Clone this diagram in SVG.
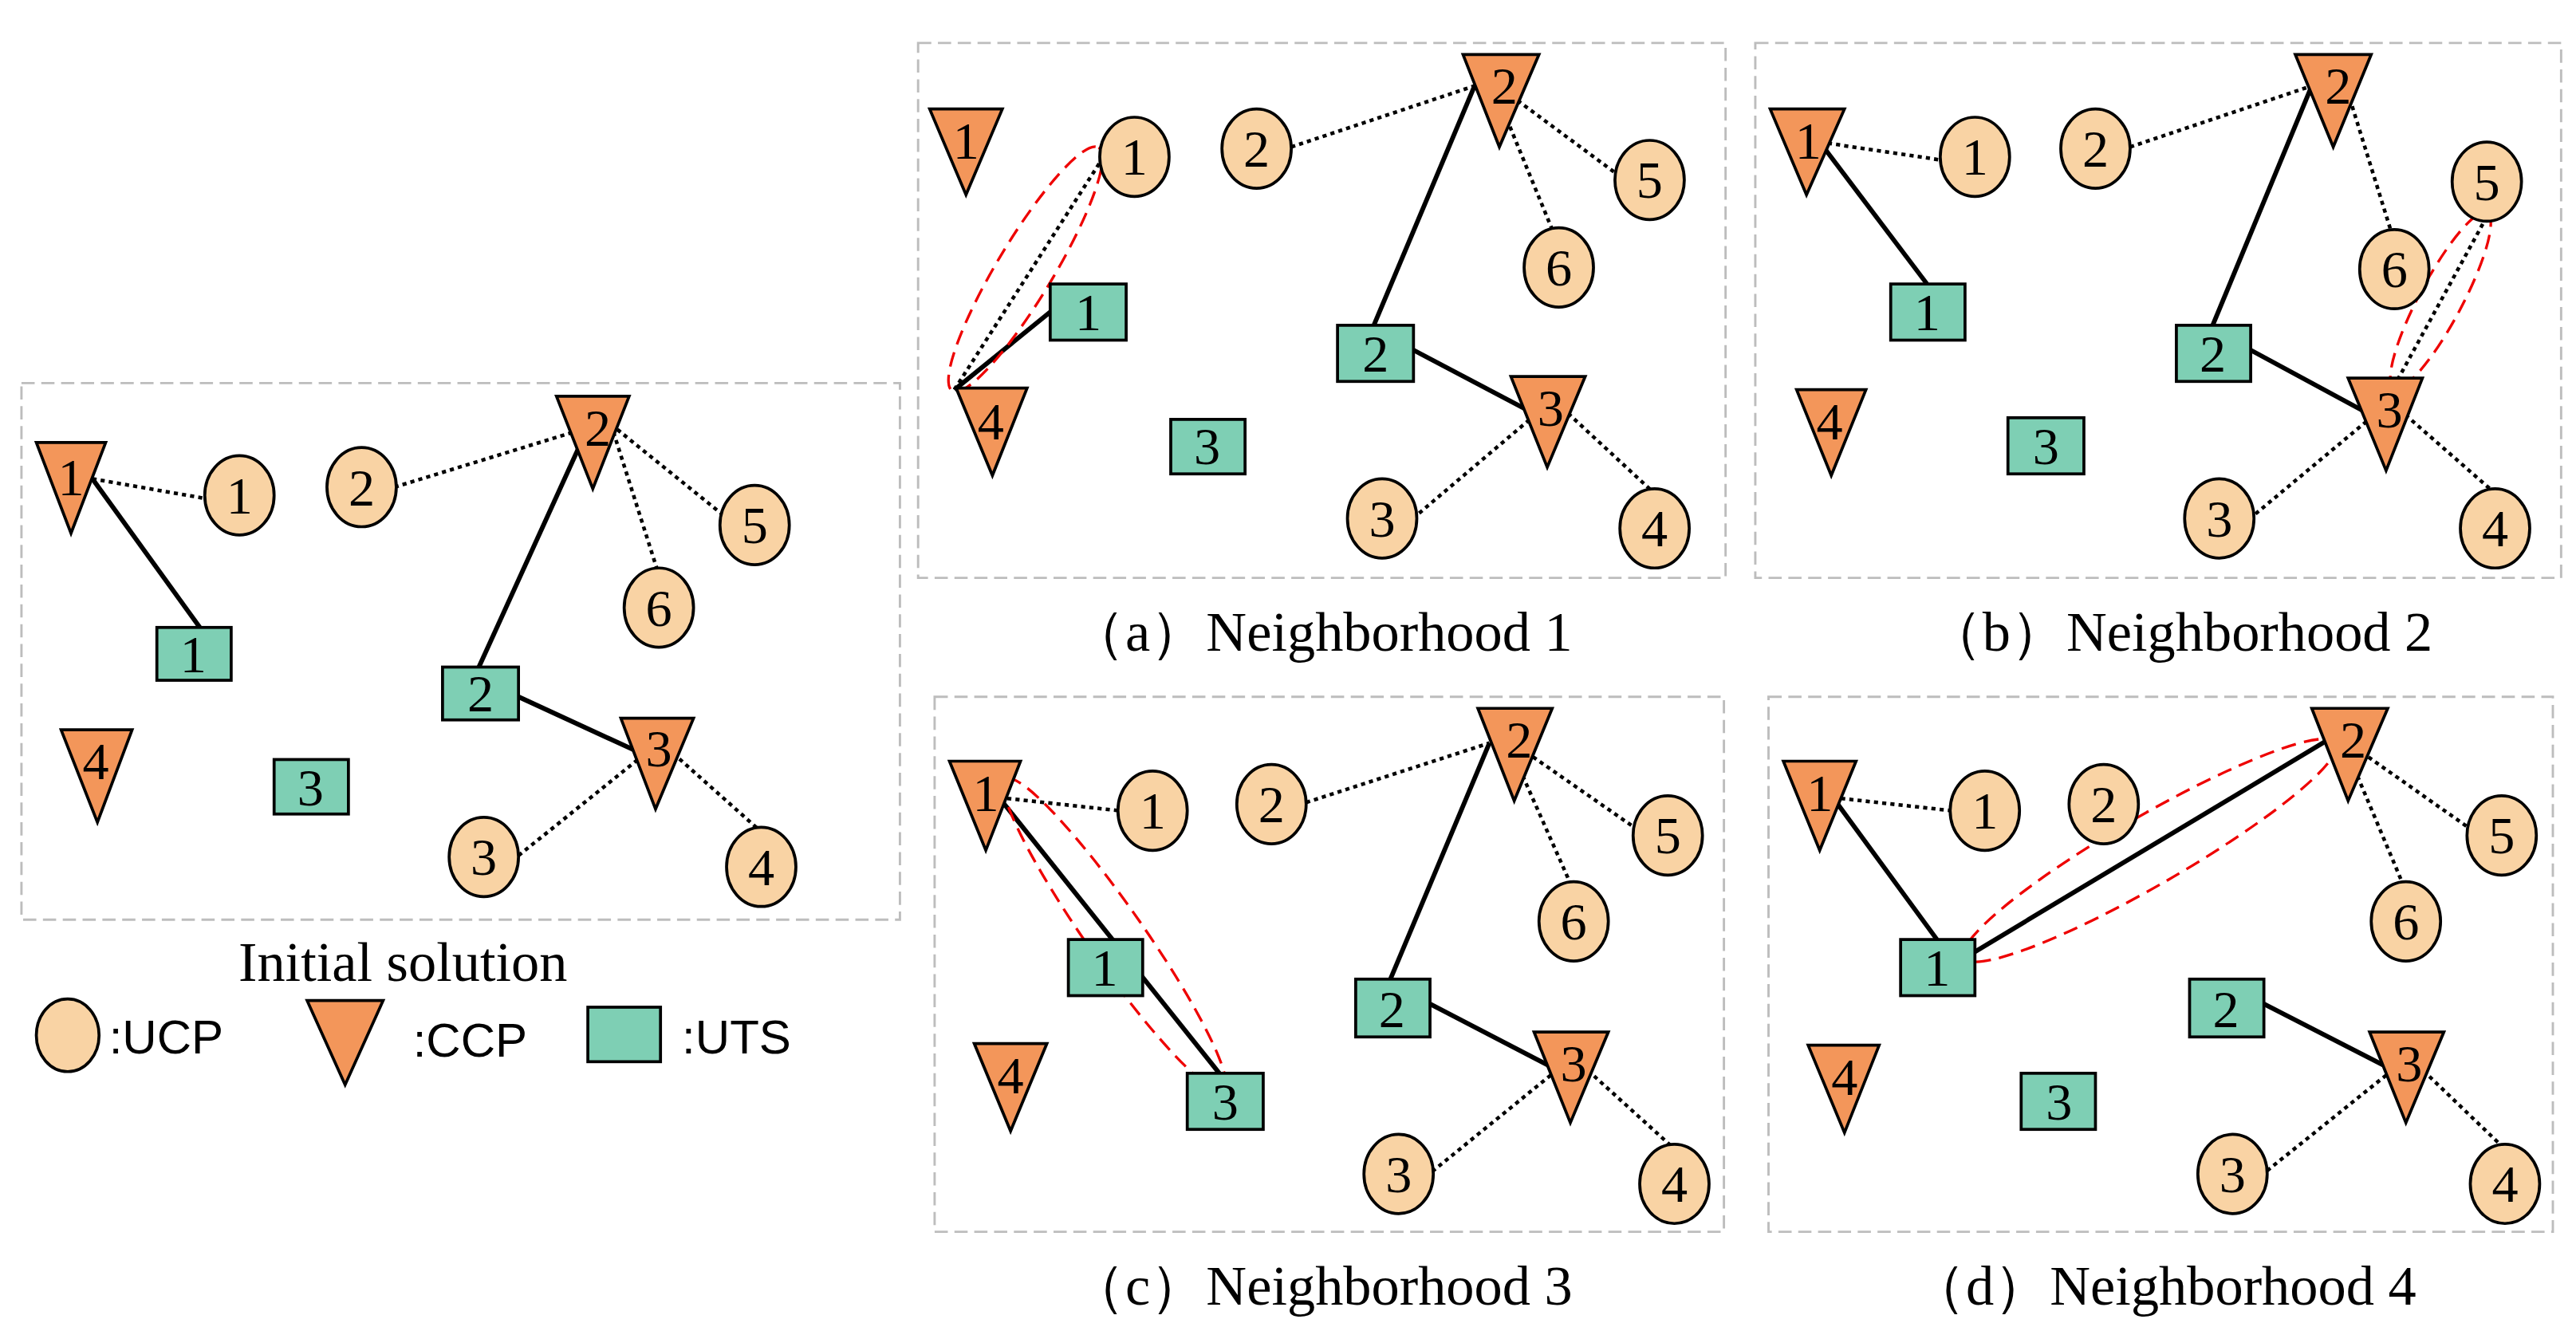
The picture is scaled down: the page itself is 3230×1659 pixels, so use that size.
<svg xmlns="http://www.w3.org/2000/svg" width="3230" height="1659" viewBox="0 0 3230 1659">
<style>
.u{fill:#f9d3a4;stroke:#000;stroke-width:1.8}
.c{fill:#f3965a;stroke:#000;stroke-width:1.8}
.s{fill:#7ecfb4;stroke:#000;stroke-width:1.8}
.t{font-family:"Liberation Serif",serif;font-size:32px;text-anchor:middle;fill:#000}
.cap{font-family:"Liberation Serif",serif;font-size:34px;text-anchor:middle;fill:#000}
.lg{font-family:"Liberation Sans",sans-serif;font-size:29px;fill:#000}
.box{fill:none;stroke:#bdbdbd;stroke-width:1.4;stroke-dasharray:8 4}
.sl{stroke:#000;stroke-width:2.8;fill:none}
.dl{stroke:#000;stroke-width:2.2;stroke-dasharray:2.5 2.5;fill:none}
.re{fill:none;stroke:#e00;stroke-width:1.6;stroke-dasharray:9 5}
</style>
<rect width="3230" height="1659" fill="#fff"/>
<g transform="scale(2.0705)">
<rect class="box" x="13" y="232" width="532" height="325"/>
<rect class="box" x="556" y="26" width="489" height="324"/>
<rect class="box" x="1063" y="26" width="488" height="324"/>
<rect class="box" x="566" y="422" width="478" height="324"/>
<rect class="box" x="1071" y="422" width="475" height="324"/>
<g id="connectors">
<line class="dl" x1="56" y1="290" x2="125" y2="302"/>
<line class="sl" x1="56" y1="290" x2="121" y2="380"/>
<line class="dl" x1="239" y1="295" x2="356" y2="259"/>
<line class="sl" x1="356" y1="259" x2="290" y2="404"/>
<line class="dl" x1="370" y1="257" x2="438" y2="312"/>
<line class="dl" x1="370" y1="257" x2="398" y2="345"/>
<line class="sl" x1="314" y1="422" x2="390" y2="457"/>
<line class="dl" x1="390" y1="457" x2="313" y2="519"/>
<line class="dl" x1="404" y1="453" x2="459" y2="502"/>
<line class="dl" x1="578" y1="236" x2="667" y2="97"/>
<line class="sl" x1="578" y1="236" x2="636" y2="189"/>
<line class="dl" x1="782" y1="89" x2="893" y2="52"/>
<line class="sl" x1="893" y1="52" x2="832" y2="197"/>
<line class="dl" x1="903" y1="49" x2="980" y2="106"/>
<line class="dl" x1="903" y1="49" x2="940" y2="139"/>
<line class="sl" x1="856" y1="212" x2="930" y2="251"/>
<line class="dl" x1="930" y1="251" x2="858" y2="312"/>
<line class="dl" x1="946" y1="247" x2="1000" y2="297"/>
<ellipse class="re" cx="621" cy="163" rx="86" ry="17" transform="rotate(-59 621 163)"/>
<line class="dl" x1="1102" y1="86" x2="1176" y2="97"/>
<line class="sl" x1="1102" y1="86" x2="1167" y2="172"/>
<line class="dl" x1="1290" y1="89" x2="1400" y2="52"/>
<line class="sl" x1="1400" y1="52" x2="1340" y2="197"/>
<line class="dl" x1="1420" y1="50" x2="1448" y2="140"/>
<line class="dl" x1="1452" y1="230" x2="1505" y2="133"/>
<line class="sl" x1="1363" y1="212" x2="1437" y2="252"/>
<line class="dl" x1="1437" y1="252" x2="1365" y2="312"/>
<line class="dl" x1="1453" y1="248" x2="1509" y2="297"/>
<ellipse class="re" cx="1478" cy="182" rx="60" ry="13" transform="rotate(-62 1478 182)"/>
<line class="dl" x1="605" y1="483" x2="678" y2="491"/>
<line class="sl" x1="605" y1="483" x2="740" y2="652"/>
<line class="dl" x1="791" y1="486" x2="902" y2="450"/>
<line class="sl" x1="902" y1="450" x2="842" y2="593"/>
<line class="dl" x1="912" y1="447" x2="991" y2="502"/>
<line class="dl" x1="912" y1="447" x2="951" y2="535"/>
<line class="sl" x1="866" y1="608" x2="943" y2="648"/>
<line class="dl" x1="943" y1="648" x2="868" y2="709"/>
<line class="dl" x1="958" y1="645" x2="1012" y2="694"/>
<ellipse class="re" cx="675" cy="566" rx="115" ry="17" transform="rotate(55 675 566)"/>
<line class="dl" x1="1110" y1="483" x2="1182" y2="491"/>
<line class="sl" x1="1110" y1="483" x2="1173" y2="569"/>
<line class="sl" x1="1190" y1="580" x2="1410" y2="448"/>
<line class="dl" x1="1418" y1="447" x2="1496" y2="502"/>
<line class="dl" x1="1418" y1="447" x2="1455" y2="535"/>
<line class="sl" x1="1371" y1="608" x2="1449" y2="648"/>
<line class="dl" x1="1449" y1="648" x2="1373" y2="709"/>
<line class="dl" x1="1464" y1="645" x2="1515" y2="694"/>
<ellipse class="re" cx="1302" cy="515" rx="130" ry="21" transform="rotate(-30 1302 515)"/>
</g>
<g id="i-ccp1"><polygon class="c" points="22,268 64,268 43,323"/><text class="t" x="43" y="300">1</text></g>
<g id="i-ucp1"><ellipse class="u" cx="145" cy="300" rx="21" ry="24"/><text class="t" x="145" y="311">1</text></g>
<g id="i-ucp2"><ellipse class="u" cx="219" cy="295" rx="21" ry="24"/><text class="t" x="219" y="306">2</text></g>
<g id="i-ccp2"><polygon class="c" points="337,240 381,240 359,296"/><text class="t" x="362" y="270">2</text></g>
<g id="i-ucp5"><ellipse class="u" cx="457" cy="318" rx="21" ry="24"/><text class="t" x="457" y="329">5</text></g>
<g id="i-ucp6"><ellipse class="u" cx="399" cy="368" rx="21" ry="24"/><text class="t" x="399" y="379">6</text></g>
<g id="i-uts1"><rect class="s" x="95" y="380" width="45" height="32"/><text class="t" x="117" y="407">1</text></g>
<g id="i-uts2"><rect class="s" x="268" y="404" width="46" height="32"/><text class="t" x="291" y="431">2</text></g>
<g id="i-ccp3"><polygon class="c" points="376,435 420,435 397,490"/><text class="t" x="399" y="464">3</text></g>
<g id="i-ccp4"><polygon class="c" points="37,442 80,442 59,498"/><text class="t" x="58" y="472">4</text></g>
<g id="i-uts3"><rect class="s" x="166" y="460" width="45" height="33"/><text class="t" x="188" y="488">3</text></g>
<g id="i-ucp3"><ellipse class="u" cx="293" cy="519" rx="21" ry="24"/><text class="t" x="293" y="530">3</text></g>
<g id="i-ucp4"><ellipse class="u" cx="461" cy="525" rx="21" ry="24"/><text class="t" x="461" y="536">4</text></g>
<text class="cap" x="244" y="594">Initial solution</text>
<g id="legend-ucp"><ellipse class="u" cx="41" cy="627" rx="19" ry="22"/><text class="lg" x="66" y="638">:UCP</text></g>
<g id="legend-ccp"><polygon class="c" points="186,606 232,606 209,657"/><text class="lg" x="250" y="640">:CCP</text></g>
<g id="legend-uts"><rect class="s" x="356" y="610" width="44" height="33"/><text class="lg" x="413" y="638">:UTS</text></g>
<g id="a-ccp1"><polygon class="c" points="563,66 607,66 585,118"/><text class="t" x="585" y="96">1</text></g>
<g id="a-ucp1"><ellipse class="u" cx="687" cy="95" rx="21" ry="24"/><text class="t" x="687" y="106">1</text></g>
<g id="a-ucp2"><ellipse class="u" cx="761" cy="90" rx="21" ry="24"/><text class="t" x="761" y="101">2</text></g>
<g id="a-ccp2"><polygon class="c" points="886,33 932,33 908,89"/><text class="t" x="911" y="63">2</text></g>
<g id="a-ucp5"><ellipse class="u" cx="999" cy="109" rx="21" ry="24"/><text class="t" x="999" y="120">5</text></g>
<g id="a-ucp6"><ellipse class="u" cx="944" cy="162" rx="21" ry="24"/><text class="t" x="944" y="173">6</text></g>
<g id="a-uts1"><rect class="s" x="636" y="172" width="46" height="34"/><text class="t" x="659" y="200">1</text></g>
<g id="a-uts2"><rect class="s" x="810" y="197" width="46" height="34"/><text class="t" x="833" y="225">2</text></g>
<g id="a-ccp3"><polygon class="c" points="915,228 960,228 937,283"/><text class="t" x="939" y="258">3</text></g>
<g id="a-ccp4"><polygon class="c" points="579,235 622,235 601,288"/><text class="t" x="600" y="266">4</text></g>
<g id="a-uts3"><rect class="s" x="709" y="254" width="45" height="33"/><text class="t" x="731" y="281">3</text></g>
<g id="a-ucp3"><ellipse class="u" cx="837" cy="314" rx="21" ry="24"/><text class="t" x="837" y="325">3</text></g>
<g id="a-ucp4"><ellipse class="u" cx="1002" cy="320" rx="21" ry="24"/><text class="t" x="1002" y="331">4</text></g>
<text class="cap" x="800" y="394">（a）Neighborhood 1</text>
<g id="b-ccp1"><polygon class="c" points="1072,66 1117,66 1094,118"/><text class="t" x="1095" y="96">1</text></g>
<g id="b-ucp1"><ellipse class="u" cx="1196" cy="95" rx="21" ry="24"/><text class="t" x="1196" y="106">1</text></g>
<g id="b-ucp2"><ellipse class="u" cx="1269" cy="90" rx="21" ry="24"/><text class="t" x="1269" y="101">2</text></g>
<g id="b-ccp2"><polygon class="c" points="1390,33 1436,33 1413,89"/><text class="t" x="1416" y="63">2</text></g>
<g id="b-ucp5"><ellipse class="u" cx="1506" cy="110" rx="21" ry="24"/><text class="t" x="1506" y="121">5</text></g>
<g id="b-ucp6"><ellipse class="u" cx="1450" cy="163" rx="21" ry="24"/><text class="t" x="1450" y="174">6</text></g>
<g id="b-uts1"><rect class="s" x="1145" y="172" width="45" height="34"/><text class="t" x="1167" y="200">1</text></g>
<g id="b-uts2"><rect class="s" x="1318" y="197" width="45" height="34"/><text class="t" x="1340" y="225">2</text></g>
<g id="b-ccp3"><polygon class="c" points="1422,229 1467,229 1445,285"/><text class="t" x="1447" y="259">3</text></g>
<g id="b-ccp4"><polygon class="c" points="1088,236 1130,236 1109,288"/><text class="t" x="1108" y="266">4</text></g>
<g id="b-uts3"><rect class="s" x="1216" y="253" width="46" height="34"/><text class="t" x="1239" y="281">3</text></g>
<g id="b-ucp3"><ellipse class="u" cx="1344" cy="314" rx="21" ry="24"/><text class="t" x="1344" y="325">3</text></g>
<g id="b-ucp4"><ellipse class="u" cx="1511" cy="320" rx="21" ry="24"/><text class="t" x="1511" y="331">4</text></g>
<text class="cap" x="1320" y="394">（b）Neighborhood 2</text>
<g id="c-ccp1"><polygon class="c" points="575,461 618,461 597,515"/><text class="t" x="597" y="491">1</text></g>
<g id="c-ucp1"><ellipse class="u" cx="698" cy="491" rx="21" ry="24"/><text class="t" x="698" y="502">1</text></g>
<g id="c-ucp2"><ellipse class="u" cx="770" cy="487" rx="21" ry="24"/><text class="t" x="770" y="498">2</text></g>
<g id="c-ccp2"><polygon class="c" points="895,429 940,429 917,485"/><text class="t" x="920" y="459">2</text></g>
<g id="c-ucp5"><ellipse class="u" cx="1010" cy="506" rx="21" ry="24"/><text class="t" x="1010" y="517">5</text></g>
<g id="c-ucp6"><ellipse class="u" cx="953" cy="558" rx="21" ry="24"/><text class="t" x="953" y="569">6</text></g>
<g id="c-uts1"><rect class="s" x="647" y="569" width="45" height="34"/><text class="t" x="669" y="597">1</text></g>
<g id="c-uts2"><rect class="s" x="821" y="593" width="45" height="35"/><text class="t" x="843" y="622">2</text></g>
<g id="c-ccp3"><polygon class="c" points="929,625 974,625 951,680"/><text class="t" x="953" y="655">3</text></g>
<g id="c-ccp4"><polygon class="c" points="590,632 634,632 612,685"/><text class="t" x="612" y="662">4</text></g>
<g id="c-uts3"><rect class="s" x="719" y="650" width="46" height="34"/><text class="t" x="742" y="678">3</text></g>
<g id="c-ucp3"><ellipse class="u" cx="847" cy="711" rx="21" ry="24"/><text class="t" x="847" y="722">3</text></g>
<g id="c-ucp4"><ellipse class="u" cx="1014" cy="717" rx="21" ry="24"/><text class="t" x="1014" y="728">4</text></g>
<text class="cap" x="800" y="790">（c）Neighborhood 3</text>
<g id="d-ccp1"><polygon class="c" points="1080,461 1124,461 1102,515"/><text class="t" x="1102" y="491">1</text></g>
<g id="d-ucp1"><ellipse class="u" cx="1202" cy="491" rx="21" ry="24"/><text class="t" x="1202" y="502">1</text></g>
<g id="d-ucp2"><ellipse class="u" cx="1274" cy="487" rx="21" ry="24"/><text class="t" x="1274" y="498">2</text></g>
<g id="d-ccp2"><polygon class="c" points="1400,429 1446,429 1422,485"/><text class="t" x="1425" y="459">2</text></g>
<g id="d-ucp5"><ellipse class="u" cx="1515" cy="506" rx="21" ry="24"/><text class="t" x="1515" y="517">5</text></g>
<g id="d-ucp6"><ellipse class="u" cx="1457" cy="558" rx="21" ry="24"/><text class="t" x="1457" y="569">6</text></g>
<g id="d-uts1"><rect class="s" x="1151" y="569" width="45" height="34"/><text class="t" x="1173" y="597">1</text></g>
<g id="d-uts2"><rect class="s" x="1326" y="593" width="45" height="35"/><text class="t" x="1348" y="622">2</text></g>
<g id="d-ccp3"><polygon class="c" points="1435,625 1480,625 1457,680"/><text class="t" x="1459" y="655">3</text></g>
<g id="d-ccp4"><polygon class="c" points="1095,633 1138,633 1117,686"/><text class="t" x="1117" y="663">4</text></g>
<g id="d-uts3"><rect class="s" x="1224" y="650" width="45" height="34"/><text class="t" x="1247" y="678">3</text></g>
<g id="d-ucp3"><ellipse class="u" cx="1352" cy="711" rx="21" ry="24"/><text class="t" x="1352" y="722">3</text></g>
<g id="d-ucp4"><ellipse class="u" cx="1517" cy="717" rx="21" ry="24"/><text class="t" x="1517" y="728">4</text></g>
<text class="cap" x="1310" y="790">（d）Neighborhood 4</text>
</g>
</svg>
